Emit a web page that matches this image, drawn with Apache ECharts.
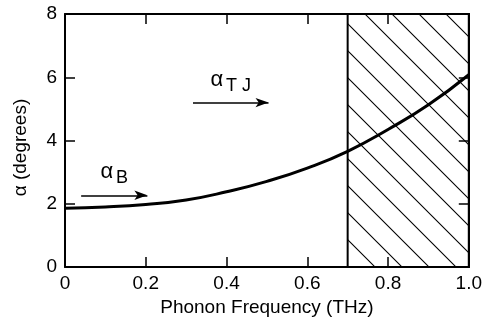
<!DOCTYPE html>
<html>
<head>
<meta charset="utf-8">
<script src="https://cdn.jsdelivr.net/npm/echarts@6/dist/echarts.min.js"></script>
<style>
  html, body { margin: 0; padding: 0; background: #fff; }
  #chart { width: 485px; height: 322px; }
</style>
</head>
<body>
<div id="chart"></div>
<script>
// values
const freq = [0, 0.1, 0.2, 0.3, 0.4, 0.5, 0.6, 0.7, 0.8, 0.9, 1.0];
const alpha = [1.86, 1.90, 1.98, 2.12, 2.38, 2.71, 3.13, 3.66, 4.35, 5.13, 6.08];
const xTicks = ['0', '0.2', '0.4', '0.6', '0.8', '1.0'];
const hatchRange = [0.7, 1.0];
const arrowB = [[0.04, 2.27], [0.204, 2.27]];
const arrowTJ = [[0.317, 5.2], [0.504, 5.2]];

const FONT = 'Liberation Sans';

// diagonal hatch pattern
const makeHatch = (s) => {
  const c = document.createElement('canvas');
  c.width = s; c.height = s;
  const ctx = c.getContext('2d');
  ctx.strokeStyle = '#000';
  ctx.lineWidth = 1.1;
  ctx.beginPath();
  ctx.moveTo(-1, -1); ctx.lineTo(s + 1, s + 1);
  ctx.moveTo(-1, s - 1); ctx.lineTo(1, s + 1);
  ctx.moveTo(s - 1, -1); ctx.lineTo(s + 1, 1);
  ctx.stroke();
  return c;
};

const chart = echarts.init(document.getElementById('chart'));

const frameAxis = {
  axisLine: { show: true, onZero: false, lineStyle: { color: '#000', width: 2 } },
  axisTick: { show: true, inside: true, length: 10, lineStyle: { color: '#000', width: 1.5 } },
  splitLine: { show: false },
};

const arrowLine = (pts, label) => ({
  symbol: ['none', 'arrow'],
  symbolSize: [7, 13],
  lineStyle: { color: '#000', width: 1.5, type: 'solid' },
  label: {
    show: true,
    position: 'middle',
    distance: 8,
    formatter: label,
    rich: {
      a: { fontFamily: FONT, fontSize: 22, color: '#000' },
      s: { fontFamily: FONT, fontSize: 18, color: '#000', padding: [12, 0, 0, 3] },
    },
  },
  data: [[{ coord: pts[0] }, { coord: pts[1] }]],
});

chart.setOption({
  animation: false,
  backgroundColor: '#fff',
  grid: { left: 65, right: 13, top: 14, bottom: 54 },
  xAxis: [
    {
      ...frameAxis,
      type: 'value',
      position: 'bottom',
      min: 0,
      max: 1,
      interval: 0.2,
      name: 'Phonon Frequency (THz)',
      nameLocation: 'middle',
      nameGap: 28,
      nameTextStyle: { fontFamily: FONT, fontSize: 19, color: '#000' },
      axisLabel: {
        margin: 7,
        fontFamily: FONT,
        fontSize: 19,
        color: '#000',
        formatter: (v) => xTicks[Math.round(v / 0.2)],
      },
    },
    {
      ...frameAxis,
      type: 'value',
      position: 'top',
      min: 0,
      max: 1,
      interval: 0.2,
      axisLabel: { show: false },
    },
  ],
  yAxis: [
    {
      ...frameAxis,
      type: 'value',
      position: 'left',
      min: 0,
      max: 8,
      interval: 2,
      name: 'α (degrees)',
      nameLocation: 'middle',
      nameGap: 35,
      nameTextStyle: { fontFamily: FONT, fontSize: 19, color: '#000', padding: [0, 14, 0, 0] },
      axisLabel: { margin: 8, fontFamily: FONT, fontSize: 19, color: '#000' },
    },
    {
      ...frameAxis,
      type: 'value',
      position: 'right',
      min: 0,
      max: 8,
      interval: 2,
      axisLabel: { show: false },
    },
  ],
  series: [
    {
      type: 'line',
      xAxisIndex: 0,
      yAxisIndex: 0,
      data: freq.map((f, i) => [f, alpha[i]]),
      smooth: true,
      showSymbol: false,
      lineStyle: { color: '#000', width: 3 },
      z: 5,
      markArea: {
        silent: true,
        itemStyle: {
          color: { image: makeHatch(27), repeat: 'repeat' },
          borderColor: '#000',
          borderWidth: 2,
        },
        data: [[{ xAxis: hatchRange[0] }, { xAxis: hatchRange[1] }]],
      },
    },
    {
      type: 'line',
      data: [],
      markLine: { silent: true, animation: false, ...arrowLine(arrowB, '{a|α}{s|B}') },
    },
    {
      type: 'line',
      data: [],
      markLine: { silent: true, animation: false, ...arrowLine(arrowTJ, '{a|α}{s|T J}') },
    },
  ],
});
</script>
</body>
</html>
